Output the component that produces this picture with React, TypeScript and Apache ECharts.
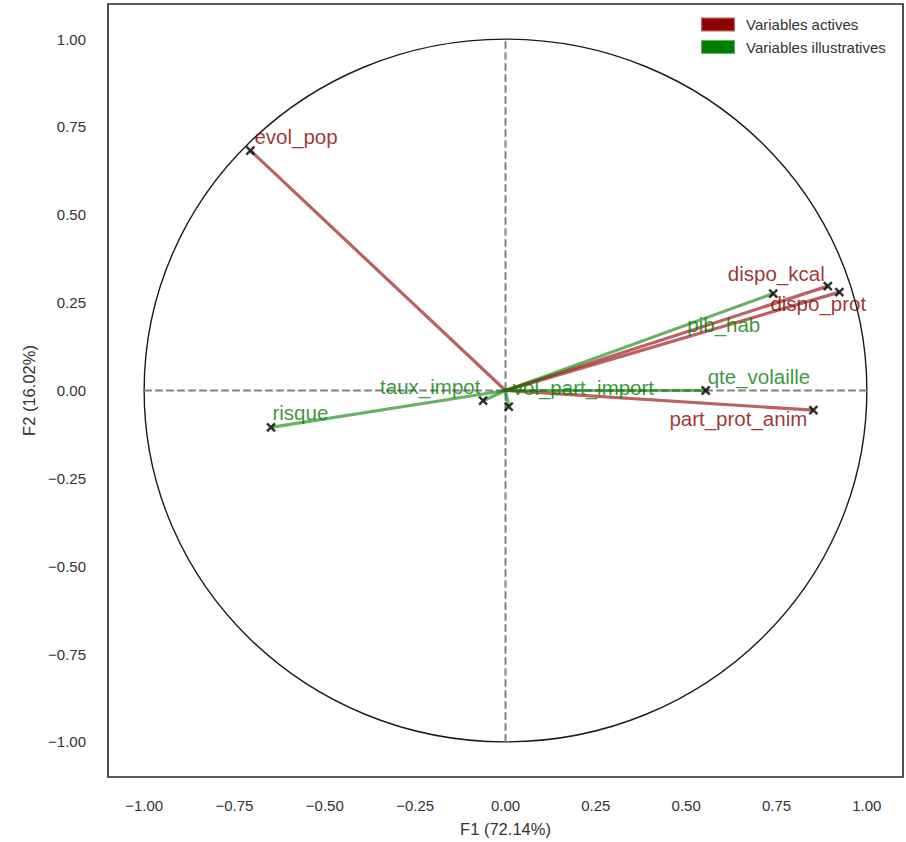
import React, { useEffect, useRef } from "react";
import * as echarts from "echarts";

// Active variables (correlation circle coordinates)
const activeNames = ["evol_pop", "dispo_kcal", "dispo_prot", "part_prot_anim"];
const activeF1 = [-0.706, 0.892, 0.924, 0.852];
const activeF2 = [0.683, 0.297, 0.28, -0.056];

// Illustrative (supplementary) variables
const suppNames = ["pib_hab", "qte_volaille", "taux_impot", "vol_part_import", "risque"];
const suppF1 = [0.741, 0.554, -0.062, 0.009, -0.649];
const suppF2 = [0.276, 0.0, -0.029, -0.046, -0.105];

const legendNames = ["Variables actives", "Variables illustratives"];
const xAxisName = "F1 (72.14%)";
const yAxisName = "F2 (16.02%)";

// label placement (pixel offsets from the point), layout only
const labelOffsets: Record<string, [number, number]> = {
  evol_pop: [4, -14],
  dispo_kcal: [-100, -13],
  dispo_prot: [-69, 11],
  part_prot_anim: [-144, 8],
  pib_hab: [-86, 31],
  qte_volaille: [2, -14],
  taux_impot: [-103, -14.5],
  vol_part_import: [4, -19],
  risque: [1.5, -14.5],
};

const FONT = "'Liberation Sans', Arial, sans-serif";
const RED_LINE = "rgba(160,30,30,0.7)";
const GREEN_LINE = "rgba(0,128,0,0.6)";
const RED_TEXT = "#850000";
const GREEN_TEXT = "#067d06";

const fmt = (v: number) => {
  const r = Math.round(v * 100);
  if (r % 25 !== 0) return "";
  return (r / 100).toFixed(2).replace("-", "\u2212");
};

export default function App() {
  const ref = useRef<HTMLDivElement>(null);
  useEffect(() => {
    document.body.style.margin = "0";
    if (!ref.current) return;
    const chart = echarts.init(ref.current, undefined, { renderer: "svg" });

    const makeLines = (names: string[], xs: number[], ys: number[]) =>
      names.map((_, i) => ({ coords: [[0, 0], [xs[i], ys[i]]] }));
    const makePts = (names: string[], xs: number[], ys: number[]) =>
      names.map((n, i) => ({
        name: n,
        value: [xs[i], ys[i]],
        label: { offset: labelOffsets[n] },
      }));

    const axisCommon = {
      type: "value",
      min: -1.1,
      max: 1.1,
      interval: 0.05,
      nameLocation: "middle",
      axisLine: { show: false },
      axisTick: { show: false },
      splitLine: { show: false },
    };

    const xSymbol = "path://M0 0L10 10M10 0L0 10";

    const option: any = {
      animation: false,
      backgroundColor: "#ffffff",
      grid: {
        left: 108,
        right: 2,
        top: 4,
        bottom: 63,
        show: true,
        borderColor: "#262626",
        borderWidth: 1.6,
        backgroundColor: "transparent",
      },
      xAxis: {
        ...axisCommon,
        name: xAxisName,
        nameGap: 43,
        nameTextStyle: { fontSize: 16.5, color: "#333333", fontFamily: FONT },
        axisLabel: { formatter: fmt, margin: 21, fontSize: 15, color: "#333333", fontFamily: FONT },
      },
      yAxis: {
        ...axisCommon,
        name: yAxisName,
        nameGap: 66,
        nameTextStyle: { fontSize: 16.5, color: "#333333", fontFamily: FONT },
        axisLabel: { formatter: fmt, margin: 22, fontSize: 15, color: "#333333", fontFamily: FONT },
      },
      legend: {
        orient: "vertical",
        left: 701,
        top: 17,
        padding: 0,
        itemWidth: 32,
        itemHeight: 12,
        itemGap: 7.5,
        icon: "rect",
        selectedMode: false,
        textStyle: { fontSize: 15, color: "#333333", fontFamily: FONT, padding: [0, 0, 2, 7], lineHeight: 12 },
        data: [
          { name: legendNames[0], itemStyle: { color: "#8B0000" } },
          { name: legendNames[1], itemStyle: { color: "#008000" } },
        ],
      },
      series: [
        {
          type: "custom",
          name: "circle",
          z: 1,
          silent: true,
          data: [[0, 0]],
          renderItem: (params: any, api: any) => {
            const c = api.coord([0, 0]);
            const px = api.coord([1, 0]);
            const py = api.coord([0, 1]);
            return {
              type: "ellipse",
              shape: { cx: c[0], cy: c[1], rx: px[0] - c[0], ry: c[1] - py[1] },
              style: { fill: "none", stroke: "#1a1a1a", lineWidth: 1.4 },
            };
          },
        },
        {
          type: "line",
          name: "hline",
          z: 1,
          silent: true,
          symbol: "none",
          data: [[-1, 0], [1, 0]],
          lineStyle: { color: "#808080", width: 2, type: [7.7, 3.3] },
        },
        {
          type: "line",
          name: "vline",
          z: 1,
          silent: true,
          symbol: "none",
          data: [[0, -1], [0, 1]],
          lineStyle: { color: "#808080", width: 2, type: [7.7, 3.3] },
        },
        {
          type: "lines",
          name: legendNames[0],
          coordinateSystem: "cartesian2d",
          z: 2,
          silent: true,
          lineStyle: { color: RED_LINE, width: 3.2, opacity: 1 },
          data: makeLines(activeNames, activeF1, activeF2),
        },
        {
          type: "lines",
          name: legendNames[1],
          coordinateSystem: "cartesian2d",
          z: 2,
          silent: true,
          lineStyle: { color: GREEN_LINE, width: 3.2, opacity: 1 },
          data: makeLines(suppNames, suppF1, suppF2),
        },
        {
          type: "scatter",
          name: "pts_active",
          z: 3,
          symbol: xSymbol,
          symbolSize: 8,
          itemStyle: { color: "transparent", borderColor: "#000000", borderWidth: 2.5 },
          label: {
            show: true,
            position: "inside",
            align: "left",
            verticalAlign: "middle",
            formatter: "{b}",
            fontSize: 20.5,
            color: RED_TEXT,
            fontFamily: FONT,
            textBorderWidth: 0,
          },
          data: makePts(activeNames, activeF1, activeF2),
        },
        {
          type: "scatter",
          name: "pts_supp",
          z: 3,
          symbol: xSymbol,
          symbolSize: 8,
          itemStyle: { color: "transparent", borderColor: "#000000", borderWidth: 2.5 },
          label: {
            show: true,
            position: "inside",
            align: "left",
            verticalAlign: "middle",
            formatter: "{b}",
            fontSize: 20.5,
            color: GREEN_TEXT,
            fontFamily: FONT,
            textBorderWidth: 0,
          },
          data: makePts(suppNames, suppF1, suppF2),
        },
      ],
    };
    chart.setOption(option);
    return () => chart.dispose();
  }, []);
  return <div ref={ref} style={{ width: 906, height: 842 }} />;
}
